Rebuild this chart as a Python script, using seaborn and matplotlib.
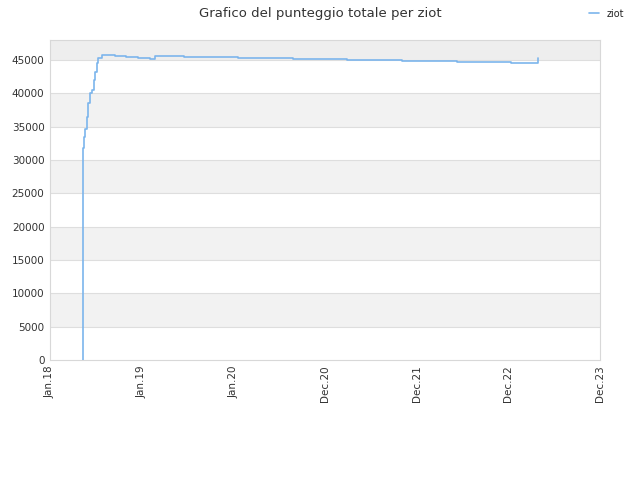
import pandas as pd
import matplotlib
matplotlib.use("Agg")
import matplotlib.pyplot as plt
import seaborn as sns

# step points
dates = [
    "2018-05-11", "2018-05-12", "2018-05-16", "2018-05-20", "2018-05-27",
    "2018-05-31", "2018-06-09", "2018-06-16", "2018-06-26", "2018-06-30",
    "2018-07-06", "2018-07-12", "2018-07-26", "2018-09-17", "2018-10-31",
    "2018-12-17", "2019-02-03", "2019-02-23", "2019-06-19", "2020-01-20",
    "2020-08-26", "2021-03-29", "2021-11-03", "2022-06-10", "2023-01-11",
    "2023-04-28", "2023-04-30",
]
scores = [
    0, 31800, 33500, 34600, 36500,
    38500, 40000, 40500, 42000, 43250,
    44500, 45250, 45750, 45650, 45450,
    45300, 45150, 45650, 45450, 45300,
    45150, 45000, 44850, 44700, 44550,
    45250, 45250,
]

x_ticks = ["2018-01-01", "2019-01-01", "2020-01-01", "2020-12-31",
           "2021-12-31", "2022-12-31", "2023-12-31"]
x_labels = ["Jan.18", "Jan.19", "Jan.20", "Dec.20", "Dec.21", "Dec.22", "Dec.23"]
y_ticks = [0, 5000, 10000, 15000, 20000, 25000, 30000, 35000, 40000, 45000]


def main():
    df = pd.DataFrame({"date": pd.to_datetime(dates), "score": scores})

    sns.set_style("white")
    plt.rcParams["font.family"] = ["DejaVu Sans"]

    fig = plt.figure(figsize=(6.4, 4.8), dpi=100)
    ax = fig.add_axes([50 / 640, 1 - 360 / 480, 550 / 640, 320 / 480])

    # alternating bands
    for lo in range(5000, 48000, 10000):
        hi = min(lo + 5000, 48000)
        ax.axhspan(lo, hi, color="#f2f2f2" if hi < 48000 else "#eeeeee", zorder=0, lw=0)
    for y in y_ticks[1:]:
        ax.axhline(y, color="#dedede", lw=0.8, zorder=1)

    sns.lineplot(data=df, x="date", y="score", ax=ax, color="#7cb5ec",
                 estimator=None, sort=False, drawstyle="steps-post",
                 lw=1.2, label="ziot", zorder=3)

    ax.set_xlim(pd.Timestamp(x_ticks[0]), pd.Timestamp(x_ticks[-1]))
    ax.set_ylim(0, 48000)
    ax.set_xticks(pd.to_datetime(x_ticks))
    ax.set_xticklabels(x_labels, rotation=90, fontsize=7.5, color="#333333")
    ax.set_yticks(y_ticks)
    ax.set_yticklabels([str(v) for v in y_ticks], fontsize=7.5, color="#333333")
    ax.tick_params(length=0, pad=4)
    ax.set_xlabel("")
    ax.set_ylabel("")
    for s in ax.spines.values():
        s.set_color("#d8d8d8")
        s.set_linewidth(0.8)

    fig.suptitle("Grafico del punteggio totale per ziot", fontsize=9.5,
                 color="#333333", y=0.985)
    ax.legend(loc="upper right", bbox_to_anchor=(1.06, 1.125), frameon=False,
              fontsize=7, handlelength=1.0, handletextpad=0.8)

    fig.savefig("out.png", dpi=100)


if __name__ == "__main__":
    main()
